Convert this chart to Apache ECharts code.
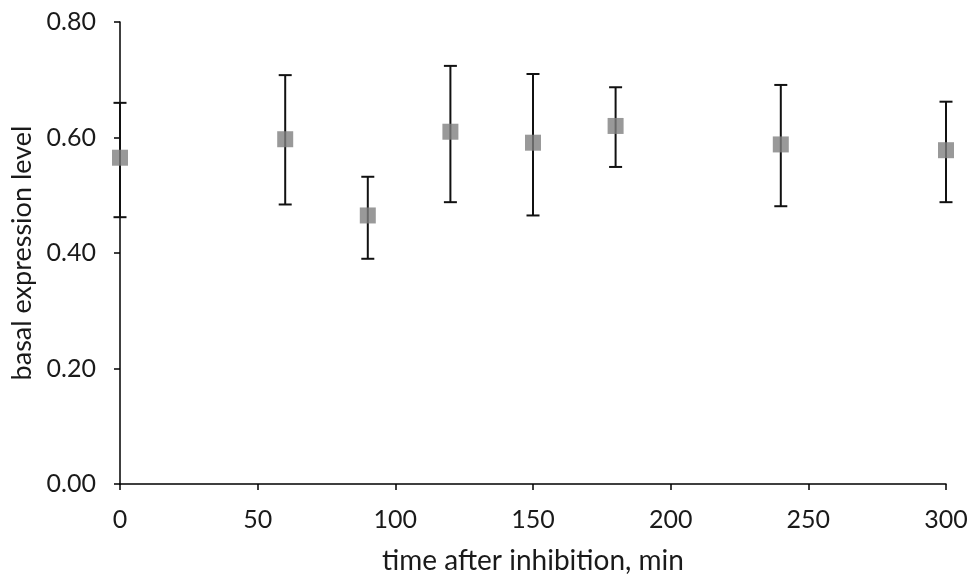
<!DOCTYPE html>
<html>
<head>
<meta charset="utf-8">
<script src="https://cdn.jsdelivr.net/npm/echarts@6/dist/echarts.min.js"></script>
<style>html,body{margin:0;padding:0;background:#fff;}#c{width:968px;height:576px;}</style>
</head>
<body>
<div id="c"></div>
<script>
const times = [0, 60, 90, 120, 150, 180, 240, 300];
const means = [0.565, 0.597, 0.465, 0.610, 0.591, 0.620, 0.588, 0.578];
const upper = [0.660, 0.708, 0.532, 0.724, 0.710, 0.687, 0.691, 0.662];
const lower = [0.462, 0.484, 0.390, 0.488, 0.465, 0.549, 0.481, 0.488];
const xTitle = 'time after inhibition, min';
const yTitle = 'basal expression level';

const FONT = 'Lato';
const chart = echarts.init(document.getElementById('c'), null, {renderer: 'canvas'});
const errData = times.map((t, i) => [t, lower[i], upper[i]]);
const ptData = times.map((t, i) => [t, means[i]]);

chart.setOption({
  animation: false,
  backgroundColor: '#ffffff',
  grid: {left: 120, right: 22, top: 22, bottom: 92, containLabel: false, outerBoundsMode: 'none'},
  xAxis: {
    type: 'value', min: 0, max: 300, interval: 50,
    name: xTitle, nameLocation: 'middle', nameGap: 63,
    nameTextStyle: {fontFamily: FONT, fontSize: 28, color: '#1a1a1a'},
    axisLine: {show: true, onZero: false, lineStyle: {color: '#000', width: 1.5}},
    axisTick: {show: true, inside: false, length: 6, lineStyle: {color: '#000', width: 1.5}},
    axisLabel: {fontFamily: FONT, fontSize: 25, color: '#1a1a1a', margin: 23},
    splitLine: {show: false}
  },
  yAxis: {
    type: 'value', min: 0, max: 0.8, interval: 0.2,
    name: yTitle, nameLocation: 'middle', nameGap: 84, nameRotate: 90,
    nameTextStyle: {fontFamily: FONT, fontSize: 27, color: '#1a1a1a'},
    axisLine: {show: true, onZero: false, lineStyle: {color: '#000', width: 1.5}},
    axisTick: {show: true, inside: false, length: 6, lineStyle: {color: '#000', width: 1.5}},
    axisLabel: {fontFamily: FONT, fontSize: 25, color: '#1a1a1a', margin: 24, formatter: v => v.toFixed(2)},
    splitLine: {show: false}
  },
  series: [
    {
      type: 'custom',
      data: errData,
      z: 2,
      renderItem: function (params, api) {
        const x = api.value(0);
        const lo = api.coord([x, api.value(1)]);
        const hi = api.coord([x, api.value(2)]);
        const hw = 6.5;
        const st = {stroke: '#111', lineWidth: 2};
        return {
          type: 'group',
          children: [
            {type: 'line', shape: {x1: lo[0], y1: lo[1], x2: hi[0], y2: hi[1]}, style: st},
            {type: 'line', shape: {x1: hi[0] - hw, y1: hi[1], x2: hi[0] + hw, y2: hi[1]}, style: st},
            {type: 'line', shape: {x1: lo[0] - hw, y1: lo[1], x2: lo[0] + hw, y2: lo[1]}, style: st}
          ]
        };
      }
    },
    {
      type: 'scatter',
      data: ptData,
      symbol: 'rect',
      symbolSize: 16,
      z: 3,
      itemStyle: {color: '#808080'}
    }
  ]
});
</script>
</body>
</html>
